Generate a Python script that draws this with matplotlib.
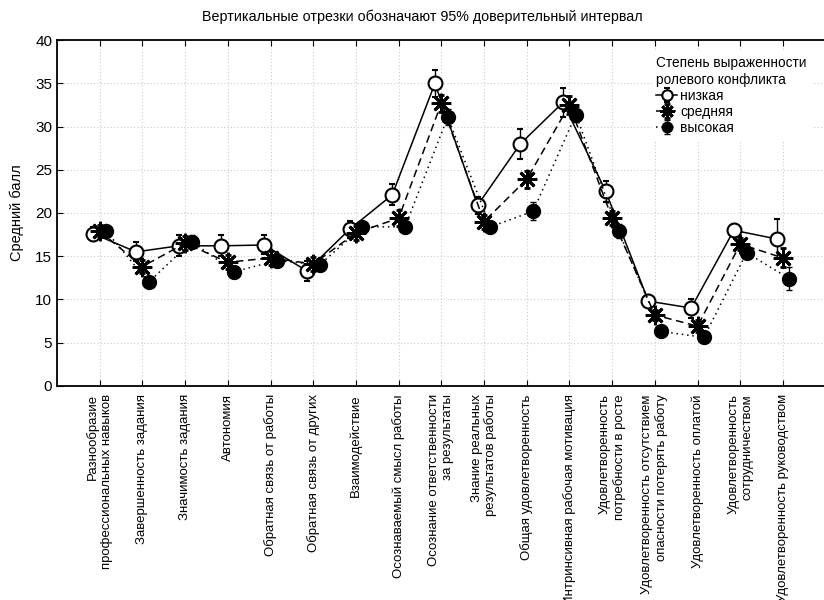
import matplotlib.pyplot as plt
import numpy as np

plt.rcParams['font.family'] = ['Liberation Sans', 'DejaVu Sans']

categories = [
    'Разнообразие\nпрофессиональных навыков',
    'Завершенность задания',
    'Значимость задания',
    'Автономия',
    'Обратная связь от работы',
    'Обратная связь от других',
    'Взаимодействие',
    'Осознаваемый смысл работы',
    'Осознание ответственности\nза результаты',
    'Знание реальных\nрезультатов работы',
    'Общая удовлетворенность',
    'Интринсивная рабочая мотивация',
    'Удовлетворенность\nпотребности в росте',
    'Удовлетворенность отсутствием\nопасности потерять работу',
    'Удовлетворенность оплатой',
    'Удовлетворенность\nсотрудничеством',
    'Удовлетворенность руководством',
]

low = [17.6, 15.5, 16.2, 16.2, 16.3, 13.3, 18.1, 22.1, 35.0, 20.9, 28.0, 32.8, 22.5, 9.8, 9.0, 18.0, 17.0]
mid = [17.9, 13.8, 16.5, 14.3, 14.8, 14.1, 17.7, 19.4, 32.7, 19.0, 23.9, 32.5, 19.4, 8.2, 6.9, 16.4, 14.8]
high = [17.9, 12.0, 16.7, 13.2, 14.5, 14.0, 18.4, 18.4, 31.1, 18.4, 20.2, 31.4, 17.9, 6.3, 5.6, 15.4, 12.4]

low_err = [0.8, 1.1, 1.2, 1.2, 1.1, 1.2, 1.0, 1.2, 1.6, 1.0, 1.7, 1.7, 1.2, 0.7, 1.1, 0.7, 2.3]
mid_err = [0.7, 0.8, 0.8, 0.8, 0.8, 0.8, 0.8, 0.9, 1.0, 0.8, 1.0, 1.0, 0.8, 0.6, 0.7, 0.7, 1.1]
high_err = [0.7, 0.6, 0.7, 0.7, 0.7, 0.7, 0.7, 0.7, 0.9, 0.7, 1.05, 0.9, 0.8, 0.6, 0.6, 0.6, 1.3]

labels = ['низкая', 'средняя', 'высокая']

fig = plt.figure(figsize=(8.24, 6.0), dpi=100)
ax = fig.add_axes([0.0692, 0.357, 0.9328, 0.576])

x = np.arange(1, len(categories) + 1)
shift = 0.15

ax.errorbar(x - shift, low, yerr=low_err, color='black', lw=1.1, ls='-',
            marker='o', ms=10, mfc='white', mec='black', mew=1.5,
            capsize=2.5, elinewidth=1, label=labels[0], zorder=3)
ax.errorbar(x, mid, yerr=mid_err, color='black', lw=1.1, ls=(0, (5, 3)),
            marker=(8, 2, 0), ms=14, mec='black', mew=2,
            capsize=2.5, elinewidth=1, label=labels[1], zorder=4)
ax.errorbar(x + shift, high, yerr=high_err, color='black', lw=1.1, ls=(0, (1, 2.5)),
            marker='o', ms=10, mfc='black', mec='black',
            capsize=2.5, elinewidth=1, label=labels[2], zorder=5)

ax.set_xlim(0, 18)
ax.set_ylim(0, 40)
ax.set_yticks(range(0, 41, 5))
ax.set_xticks(x)
ax.set_xticklabels(categories, rotation=90, ha='center', va='top',
                   multialignment='right', fontsize=9.5)
ax.tick_params(axis='x', direction='in', length=4, top=True, pad=6)
ax.tick_params(axis='y', direction='in', length=4, labelsize=11)
ax.grid(True, color='#cccccc', ls=(0, (1, 2)), lw=0.8)
ax.set_axisbelow(True)
for s in ax.spines.values():
    s.set_linewidth(1.3)

ax.set_ylabel('Средний балл', fontsize=10.5, labelpad=8)
fig.text(0.512, 0.972, 'Вертикальные отрезки обозначают 95% доверительный интервал',
         ha='center', va='center', fontsize=10.3)

leg = ax.legend(title='Степень выраженности\nролевого конфликта', loc='upper right',
                bbox_to_anchor=(0.99, 0.985), frameon=True, fontsize=10,
                title_fontsize=9.8, handlelength=1.5, handletextpad=0.2,
                labelspacing=0.15, borderpad=0.3, markerscale=0.75)
leg.get_frame().set_edgecolor('white')
leg.get_frame().set_facecolor('white')
leg.get_frame().set_alpha(1)
leg._legend_box.align = 'left'

fig.savefig('out.png', dpi=100)
